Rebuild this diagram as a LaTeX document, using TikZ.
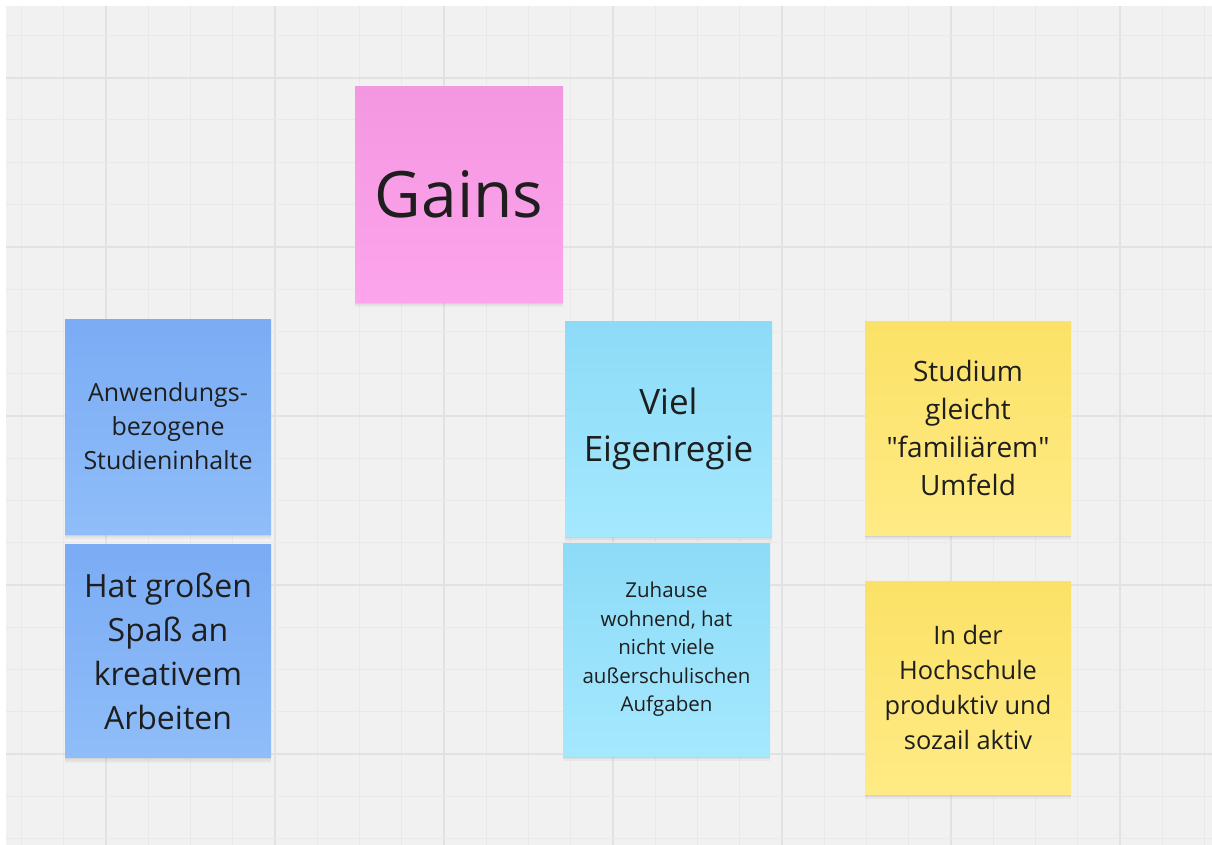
\documentclass[tikz,border=0pt]{standalone}
\usepackage{fontspec}
\setmainfont{Open Sans}
\definecolor{bgc}{HTML}{F1F1F1}
\definecolor{gminor}{HTML}{E9E9E9}
\definecolor{gmajor}{HTML}{E2E2E2}
\definecolor{txt}{HTML}{1E1E1E}
\definecolor{pinkT}{HTML}{F497E1}
\definecolor{pinkB}{HTML}{FCA4EC}
\definecolor{blueT}{HTML}{7BACF4}
\definecolor{blueB}{HTML}{8FBDF9}
\definecolor{cyanT}{HTML}{8DDBF7}
\definecolor{cyanB}{HTML}{A4E8FE}
\definecolor{yelT}{HTML}{FBE166}
\definecolor{yelB}{HTML}{FFEB85}
\newcommand{\fsz}[2]{\fontsize{#1pt}{#2pt}\selectfont}
\tikzset{
  note/.style={rectangle, inner sep=0pt, align=center, text=txt,
    preaction={fill=black, fill opacity=0.035, transform canvas={yshift=-5pt}},
    preaction={fill=black, fill opacity=0.04, transform canvas={yshift=-3pt}},
    preaction={fill=black, fill opacity=0.05, transform canvas={yshift=-1.5pt}}},
  pinknote/.style={note, top color=pinkT, bottom color=pinkB},
  bluenote/.style={note, top color=blueT, bottom color=blueB},
  cyannote/.style={note, top color=cyanT, bottom color=cyanB},
  yelnote/.style={note, top color=yelT, bottom color=yelB},
  gridminor/.style={draw=gminor, line width=1pt},
  gridmajor/.style={draw=gmajor, line width=1.6pt}
}
\begin{document}
\begin{tikzpicture}[x=1pt, y=-1pt]
\useasboundingbox (0,0) rectangle (1212,845);
\fill[white] (0,0) rectangle (1212,845);
\fill[bgc] (6,6) rectangle (1212,845);
% grid
\foreach \k in {0,...,28}{
  \pgfmathsetmacro{\xx}{21.7+42.25*\k}
  \pgfmathtruncatemacro{\mm}{mod(\k,4)}
  \ifnum\mm=2 \path[gridmajor] (\xx,6) -- (\xx,845);
  \else \path[gridminor] (\xx,6) -- (\xx,845); \fi
}
\foreach \k in {0,...,19}{
  \pgfmathsetmacro{\yy}{35.5+42.25*\k}
  \pgfmathtruncatemacro{\mm}{mod(\k,4)}
  \ifnum\mm=1 \path[gridmajor] (6,\yy) -- (1212,\yy);
  \else \path[gridminor] (6,\yy) -- (1212,\yy); \fi
}
% sticky notes
\node[pinknote, minimum width=208pt, minimum height=215pt, font=\fsz{64}{80}] (gains) at (459,194.5)
  {Gains};
\node[bluenote, minimum width=206pt, minimum height=215pt, font=\fsz{25}{34}] (anw) at (168,426.5)
  {Anwendungs-\\bezogene\\Studieninhalte};
\node[bluenote, minimum width=206pt, minimum height=213pt, font=\fsz{32}{44}] (hat) at (168,651)
  {Hat großen\\Spaß an\\kreativem\\Arbeiten};
\node[cyannote, minimum width=207pt, minimum height=215pt, font=\fsz{35}{47}] (viel) at (668.5,429)
  {Viel\\Eigenregie};
\node[cyannote, minimum width=207pt, minimum height=213pt, font=\fsz{20.5}{28.5}] (zuh) at (666.5,649.5)
  {Zuhause\\wohnend, hat\\nicht viele\\außerschulischen\\Aufgaben};
\node[yelnote, minimum width=206pt, minimum height=214pt, font=\fsz{28}{37.7}] (stud) at (968,428)
  {Studium\\gleicht\\\textquotedbl familiärem\textquotedbl\\Umfeld};
\node[yelnote, minimum width=206pt, minimum height=213pt, font=\fsz{25.4}{35}] (inder) at (968,687.5)
  {In der\\Hochschule\\produktiv und\\sozail aktiv};
\end{tikzpicture}
\end{document}
